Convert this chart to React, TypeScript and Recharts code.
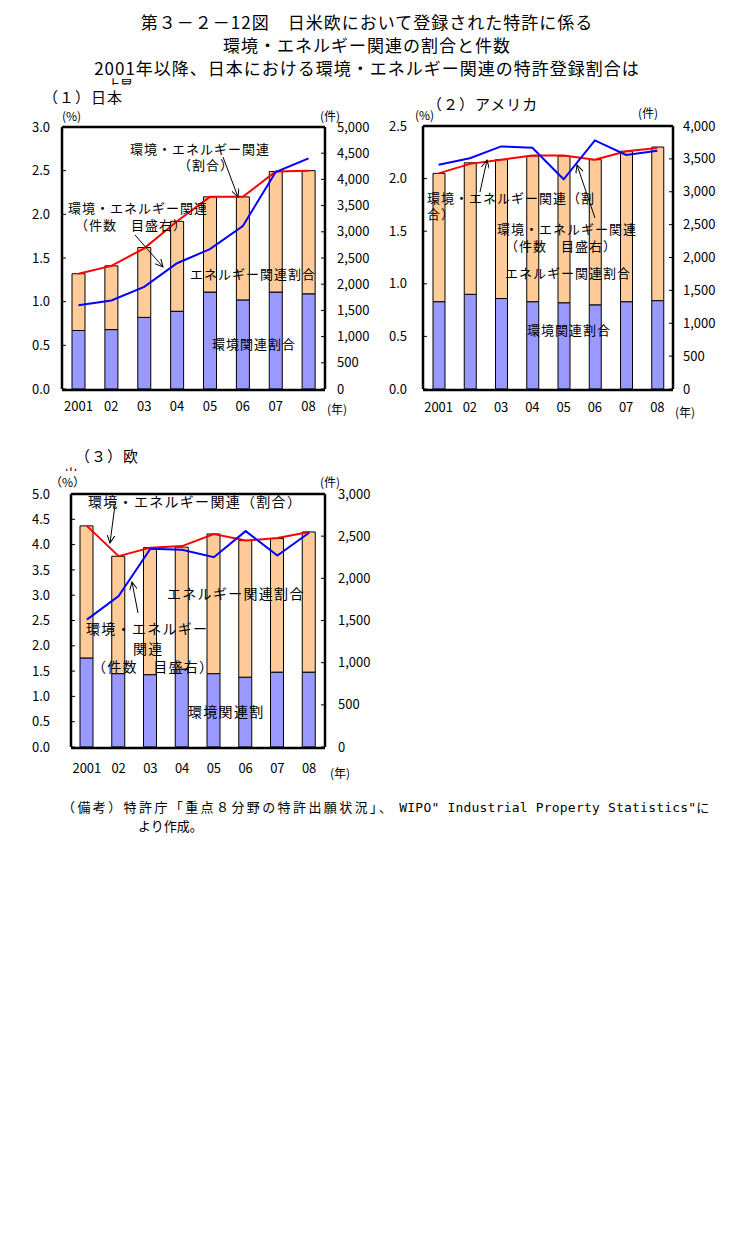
import { ComposedChart, Bar, Line, XAxis, YAxis } from 'recharts';

const FONT = '"Noto Sans CJK JP", sans-serif';
const MONO = '"DejaVu Sans Mono", monospace';

const years = ['2001', '02', '03', '04', '05', '06', '07', '08'];

// (1) 日本
const jpEnv = [0.67, 0.68, 0.82, 0.89, 1.11, 1.02, 1.11, 1.09];
const jpEnergy = [0.65, 0.73, 0.8, 1.03, 1.09, 1.18, 1.38, 1.41];
const jpShare = [1.32, 1.41, 1.61, 1.92, 2.2, 2.2, 2.49, 2.5];
const jpCount = [1600, 1690, 1950, 2400, 2670, 3110, 4140, 4400];
const jpLeftTicks = [0, 0.5, 1, 1.5, 2, 2.5, 3];
const jpRightTicks = [0, 500, 1000, 1500, 2000, 2500, 3000, 3500, 4000, 4500, 5000];

// (2) アメリカ
const usEnv = [0.83, 0.9, 0.86, 0.83, 0.82, 0.8, 0.83, 0.84];
const usEnergy = [1.22, 1.25, 1.32, 1.385, 1.395, 1.38, 1.43, 1.46];
const usShare = [2.05, 2.14, 2.18, 2.22, 2.22, 2.18, 2.26, 2.29];
const usCount = [3410, 3510, 3690, 3670, 3190, 3780, 3560, 3625];
const usLeftTicks = [0, 0.5, 1, 1.5, 2, 2.5];
const usRightTicks = [0, 500, 1000, 1500, 2000, 2500, 3000, 3500, 4000];

// (3) 欧
const euEnv = [1.76, 1.45, 1.43, 1.54, 1.45, 1.38, 1.48, 1.48];
const euEnergy = [2.61, 2.32, 2.51, 2.41, 2.76, 2.7, 2.64, 2.77];
const euShare = [4.37, 3.77, 3.94, 3.97, 4.21, 4.08, 4.13, 4.25];
const euCount = [1510, 1790, 2350, 2340, 2250, 2560, 2270, 2540];
const euLeftTicks = [0, 0.5, 1, 1.5, 2, 2.5, 3, 3.5, 4, 4.5, 5];
const euRightTicks = [0, 500, 1000, 1500, 2000, 2500, 3000];

const rows = (env: number[], energy: number[], share: number[], count: number[]) =>
  years.map((year, i) => ({ year, env: env[i], energy: energy[i], share: share[i], count: count[i] }));

const boundaryTicks = years.slice(1).map((_, i) => i + 1);

type PanelProps = {
  data: ReturnType<typeof rows>;
  box: { x: number; y: number; w: number; h: number };
  plot: { l: number; r: number; t: number; b: number };
  leftTicks: number[];
  rightTicks: number[];
  barSize: number;
  leftGap: number;
  rightGap: number;
  xLabelGap: number;
};

function Panel(p: PanelProps) {
  const axisLine = { stroke: '#000', strokeWidth: 2.5 };
  const tick = { fill: '#000', fontSize: 13, fontFamily: FONT };
  return (
    <div style={{ position: 'absolute', left: p.box.x, top: p.box.y }}>
      <ComposedChart
        width={p.box.w}
        height={p.box.h}
        data={p.data}
        margin={{ top: p.plot.t - p.box.y - 1, right: 0, left: 0, bottom: p.box.y + p.box.h - p.plot.b - 2 }}
      >
        <XAxis
          xAxisId="bnd"
          type="number"
          domain={[0, years.length]}
          ticks={boundaryTicks}
          allowDataOverflow
          height={1}
          tick={false}
          axisLine={false}
          tickSize={-4}
          tickLine={{ stroke: '#000' }}
        />
        <XAxis
          xAxisId="cat"
          dataKey="year"
          height={1}
          axisLine={axisLine}
          tickLine={false}
          tickSize={0}
          tickMargin={p.xLabelGap}
          tick={tick}
          interval={0}
        />
        <XAxis xAxisId="top" dataKey="year" orientation="top" height={1} tick={false} tickLine={false} axisLine={axisLine} />
        <YAxis
          yAxisId="left"
          width={p.plot.l - p.box.x}
          domain={[0, p.leftTicks[p.leftTicks.length - 1]]}
          ticks={p.leftTicks}
          tickFormatter={(v: number) => v.toFixed(1)}
          axisLine={axisLine}
          tickLine={{ stroke: '#000' }}
          tickSize={-4}
          tickMargin={p.leftGap}
          tick={tick}
          interval={0}
        />
        <YAxis
          yAxisId="right"
          orientation="right"
          width={p.box.x + p.box.w - p.plot.r}
          domain={[0, p.rightTicks[p.rightTicks.length - 1]]}
          ticks={p.rightTicks}
          tickFormatter={(v: number) => v.toLocaleString('en-US')}
          axisLine={axisLine}
          tickLine={{ stroke: '#000' }}
          tickSize={-4}
          tickMargin={p.rightGap}
          tick={tick}
          interval={0}
        />
        <Bar xAxisId="cat" yAxisId="left" dataKey="env" stackId="s" fill="#9999FF" stroke="#000" strokeWidth={1} barSize={p.barSize} isAnimationActive={false} />
        <Bar xAxisId="cat" yAxisId="left" dataKey="energy" stackId="s" fill="#FFCC99" stroke="#000" strokeWidth={1} barSize={p.barSize} isAnimationActive={false} />
        <Line xAxisId="cat" yAxisId="left" type="linear" dataKey="share" stroke="#FF0000" strokeWidth={2} dot={false} isAnimationActive={false} />
        <Line xAxisId="cat" yAxisId="right" type="linear" dataKey="count" stroke="#0000FF" strokeWidth={2} dot={false} isAnimationActive={false} />
      </ComposedChart>
    </div>
  );
}

function T({ x, cy, size = 13, ls = 1, children }: { x: number; cy: number; size?: number; ls?: number; children: React.ReactNode }) {
  return (
    <div
      style={{
        position: 'absolute',
        left: x,
        top: cy - size / 2 - 1,
        fontSize: size,
        lineHeight: `${size + 2}px`,
        letterSpacing: ls,
        whiteSpace: 'nowrap',
        color: '#000',
      }}
    >
      {children}
    </div>
  );
}

function Clipped({ x, top, h, size, children }: { x: number; top: number; h: number; size: number; children: string }) {
  return (
    <div style={{ position: 'absolute', left: x, top, height: h, overflow: 'hidden', fontSize: size, lineHeight: `${size + 2}px` }}>
      {children}
    </div>
  );
}

const arrows = [
  [223, 157, 238, 197],
  [135, 235, 163, 267],
  [480, 192, 487, 160],
  [595, 218, 577, 165],
  [115, 505, 110, 543],
  [138, 613, 132, 582],
];

const titleStyle = { position: 'absolute' as const, left: 0, width: 734, textAlign: 'center' as const, fontSize: 17, lineHeight: '20px', letterSpacing: 1 };

export default function App() {
  return (
    <div style={{ position: 'absolute', left: 0, top: 0, width: 734, height: 1251, background: '#fff', fontFamily: FONT, color: '#000' }}>
      <div style={{ ...titleStyle, top: 12 }}>第３－２－12図　日米欧において登録された特許に係る</div>
      <div style={{ ...titleStyle, top: 35 }}>環境・エネルギー関連の割合と件数</div>
      <div style={{ ...titleStyle, top: 58 }}>2001年以降、日本における環境・エネルギー関連の特許登録割合は</div>
      <Clipped x={107} top={76} h={9} size={13}>上昇</Clipped>

      <Panel
        data={rows(jpEnv, jpEnergy, jpShare, jpCount)}
        box={{ x: 0, y: 90, w: 380, h: 340 }}
        plot={{ l: 62, r: 325, t: 127, b: 389 }}
        leftTicks={jpLeftTicks}
        rightTicks={jpRightTicks}
        barSize={13}
        leftGap={16}
        rightGap={16}
        xLabelGap={12}
      />
      <Panel
        data={rows(usEnv, usEnergy, usShare, usCount)}
        box={{ x: 370, y: 90, w: 364, h: 340 }}
        plot={{ l: 423, r: 673, t: 126, b: 389 }}
        leftTicks={usLeftTicks}
        rightTicks={usRightTicks}
        barSize={12}
        leftGap={20}
        rightGap={14}
        xLabelGap={13}
      />
      <Panel
        data={rows(euEnv, euEnergy, euShare, euCount)}
        box={{ x: 0, y: 450, w: 380, h: 340 }}
        plot={{ l: 71, r: 325, t: 494, b: 747 }}
        leftTicks={euLeftTicks}
        rightTicks={euRightTicks}
        barSize={13}
        leftGap={25}
        rightGap={17}
        xLabelGap={16}
      />

      {/* (1) 日本 */}
      <T x={43} cy={96} size={15}>（１）日本</T>
      <T x={62} cy={116} size={12} ls={0}>(%)</T>
      <T x={320} cy={116} size={12} ls={0}>(件)</T>
      <T x={327} cy={409} size={12} ls={0}>(年)</T>
      <T x={130} cy={148}>環境・エネルギー関連</T>
      <T x={178} cy={164}>（割合）</T>
      <T x={68} cy={207}>環境・エネルギー関連</T>
      <T x={75} cy={224}>（件数　目盛右）</T>
      <T x={190} cy={273}>エネルギー関連割合</T>
      <T x={212} cy={343}>環境関連割合</T>

      {/* (2) アメリカ */}
      <T x={427} cy={103} size={15}>（２）アメリカ</T>
      <T x={415} cy={115} size={12} ls={0}>(%)</T>
      <T x={638} cy={113} size={12} ls={0}>(件)</T>
      <T x={675} cy={412} size={12} ls={0}>(年)</T>
      <T x={427} cy={197}>環境・エネルギー関連（割</T>
      <T x={427} cy={213}>合）</T>
      <T x={497} cy={228}>環境・エネルギー関連</T>
      <T x={505} cy={245}>（件数　目盛右）</T>
      <T x={505} cy={272}>エネルギー関連割合</T>
      <T x={527} cy={329}>環境関連割合</T>

      {/* (3) 欧 */}
      <T x={75} cy={455} size={15}>（３）欧</T>
      <Clipped x={64} top={465} h={6} size={14}>出</Clipped>
      <T x={50} cy={482} size={12} ls={0}>（%）</T>
      <T x={320} cy={482} size={12} ls={0}>(件)</T>
      <T x={330} cy={773} size={12} ls={0}>(年)</T>
      <T x={88} cy={501} size={14} ls={1.3}>環境・エネルギー関連（割合）</T>
      <T x={86} cy={628} size={14} ls={1.3}>環境・エネルギー</T>
      <T x={133} cy={648} size={14} ls={1.3}>関連</T>
      <T x={92} cy={666} size={14} ls={1.3}>（件数　目盛右）</T>
      <T x={167} cy={593} size={14} ls={1.3}>エネルギー関連割合</T>
      <T x={188} cy={711} size={14} ls={1.3}>環境関連割</T>

      <svg width={734} height={1251} style={{ position: 'absolute', left: 0, top: 0, pointerEvents: 'none' }}>
        <defs>
          <marker id="ah" markerUnits="userSpaceOnUse" markerWidth={9} markerHeight={8} refX={8} refY={4} orient="auto">
            <path d="M0,0 L8,4 L0,8" fill="none" stroke="#000" strokeWidth={1} />
          </marker>
        </defs>
        {arrows.map(([x1, y1, x2, y2], i) => (
          <line key={i} x1={x1} y1={y1} x2={x2} y2={y2} stroke="#000" strokeWidth={1} markerEnd="url(#ah)" />
        ))}
      </svg>

      <T x={62} cy={806} size={13} ls={2.4}>
        （備考）特許庁「重点８分野の特許出願状況」、
        <span style={{ fontFamily: MONO, letterSpacing: 0.2, marginLeft: 5 }}>WIPO" Industrial Property Statistics"</span>
        <span style={{ letterSpacing: 0 }}>に</span>
      </T>
      <T x={138} cy={825} size={13} ls={0}>より作成。</T>
    </div>
  );
}
